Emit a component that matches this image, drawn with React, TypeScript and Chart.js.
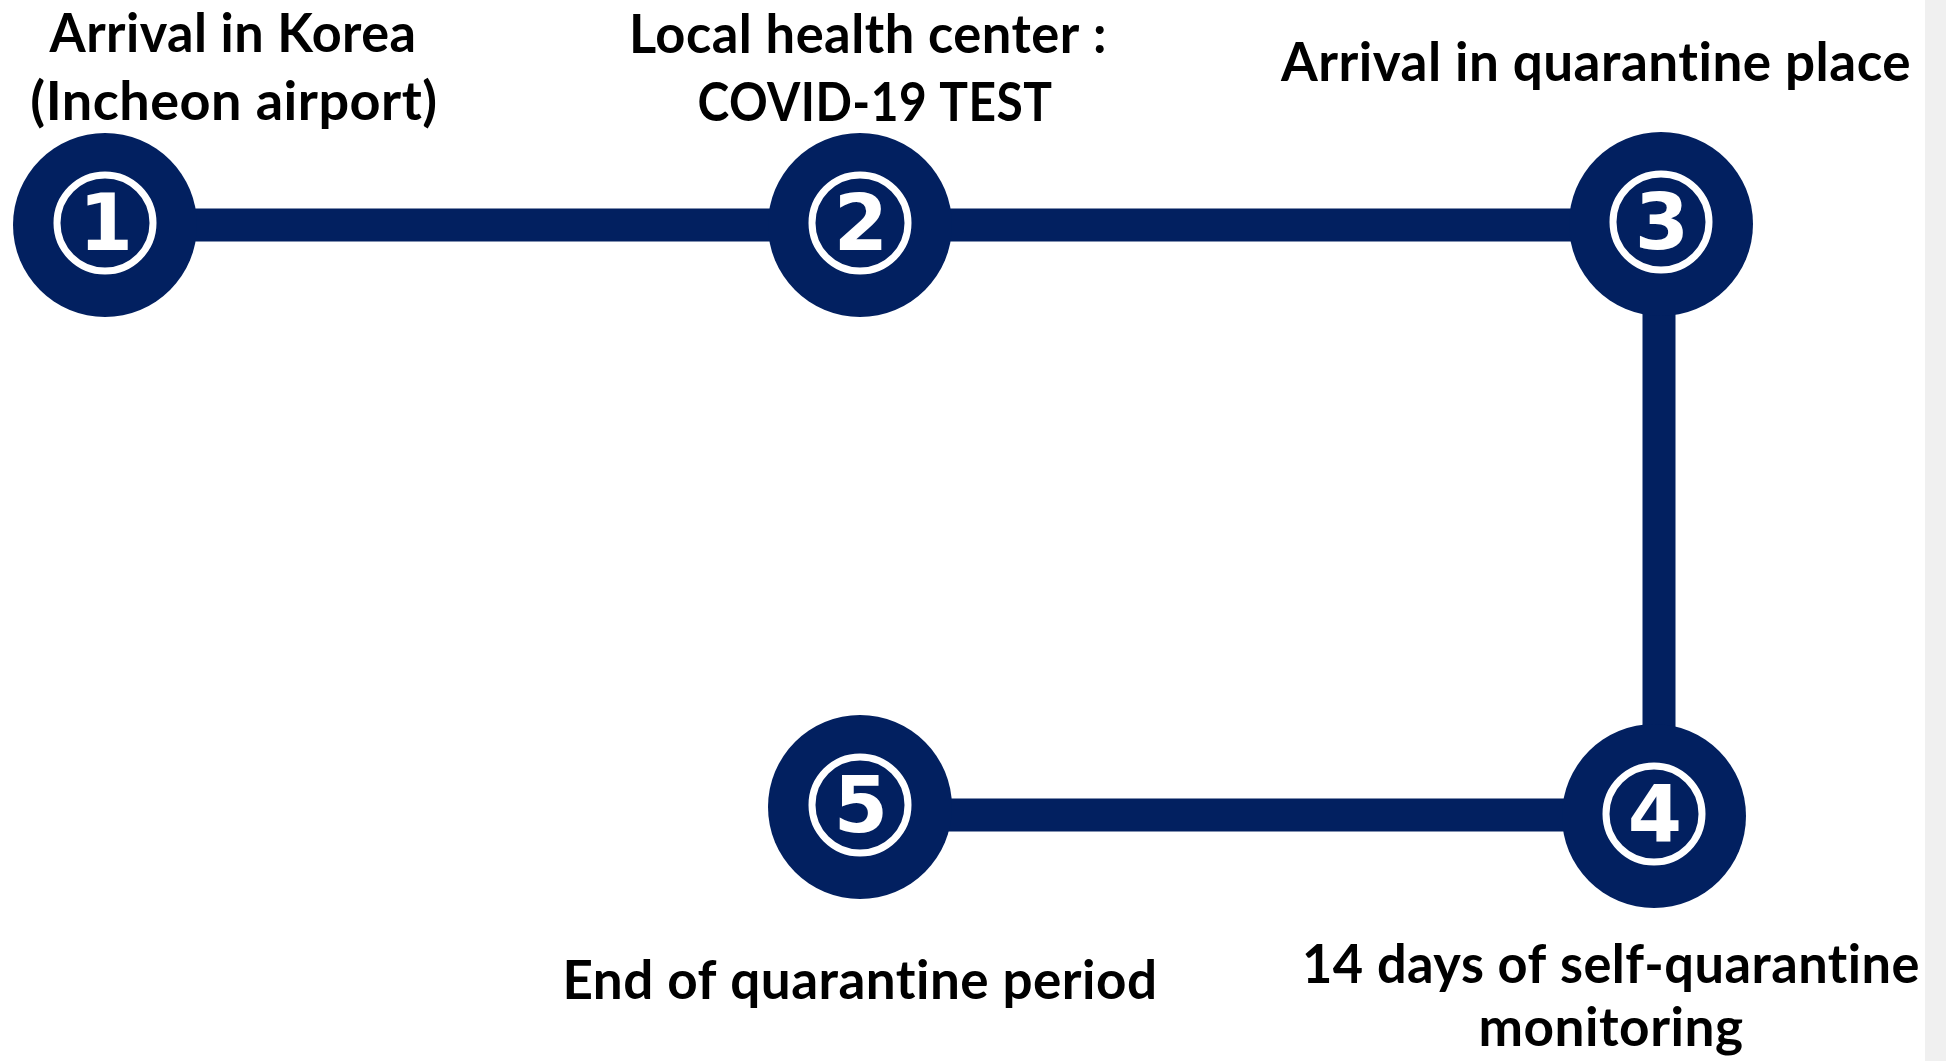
import React, { useEffect, useRef } from "react";
import { Chart, registerables } from "chart.js";

Chart.register(...registerables);

// Diagram data: node centres (in page pixel units) and connecting path
const NODE_X = [105, 860, 1661, 1654, 860];
const NODE_Y = [225, 225, 224, 816, 807];
const STEP_NUMBERS = ["1", "2", "3", "4", "5"];
const PATH_X = [105, 860, 1659, 1659, 860];
const PATH_Y = [225, 225, 225, 815, 815];
const STEP_LABELS = [
  ["Arrival in Korea", "(Incheon airport)"],
  ["Local health center :", "COVID-19 TEST"],
  ["Arrival in quarantine place"],
  ["14 days of self-quarantine", "monitoring"],
  ["End of quarantine period"],
];

// Layout / style (not data)
const W = 1946;
const H = 1061;
const NAVY = "#022060";
const LABEL_LAYOUT = [
  { cx: [233, 234], y: [52, 120], w: [367, 408] },
  { cx: [868, 875], y: [53, 121], w: [478, 355] },
  { cx: [1596], y: [81], w: [630] },
  { cx: [1611, 1611], y: [983, 1046], w: [618, 265] },
  { cx: [860], y: [999], w: [595] },
];

const overlayPlugin = {
  id: "overlay",
  beforeDraw(chart: any) {
    const ctx = chart.ctx;
    ctx.save();
    ctx.fillStyle = "#ffffff";
    ctx.fillRect(0, 0, chart.width, chart.height);
    ctx.fillStyle = "#f0f0f0";
    ctx.fillRect(1925, 0, chart.width - 1925, chart.height);
    ctx.restore();
  },
  afterDatasetsDraw(chart: any) {
    const ctx = chart.ctx;
    const xs = chart.scales.x;
    const ys = chart.scales.y;
    ctx.save();
    NODE_X.forEach((nx, i) => {
      const px = xs.getPixelForValue(nx);
      const py = ys.getPixelForValue(NODE_Y[i]) - 2;
      ctx.beginPath();
      ctx.arc(px, py, 48, 0, Math.PI * 2);
      ctx.strokeStyle = "#ffffff";
      ctx.lineWidth = 7;
      ctx.stroke();
      ctx.fillStyle = "#ffffff";
      ctx.font = "bold 78px 'DejaVu Sans'";
      ctx.textAlign = "center";
      ctx.textBaseline = "alphabetic";
      ctx.fillText(STEP_NUMBERS[i], px + 1, py + 27);
    });
    ctx.fillStyle = "#000000";
    ctx.font = "bold 54px Lato";
    ctx.textAlign = "center";
    ctx.textBaseline = "alphabetic";
    try {
      (ctx as any).letterSpacing = "0.5px";
    } catch (e) {}
    STEP_LABELS.forEach((lines, i) => {
      const lay = LABEL_LAYOUT[i];
      lines.forEach((t, j) => {
        ctx.fillText(t, lay.cx[j], lay.y[j], lay.w[j]);
      });
    });
    ctx.restore();
  },
};

export default function App() {
  const ref = useRef<HTMLCanvasElement>(null);
  useEffect(() => {
    if (!ref.current) return;
    const chart = new Chart(ref.current, {
      type: "scatter",
      data: {
        datasets: [
          {
            label: "path",
            data: PATH_X.map((x, i) => ({ x, y: PATH_Y[i] })),
            showLine: true,
            borderColor: NAVY,
            borderWidth: 33,
            borderCapStyle: "butt",
            borderJoinStyle: "miter",
            pointRadius: 0,
            tension: 0,
            clip: false,
            order: 2,
          },
          {
            label: "steps",
            data: NODE_X.map((x, i) => ({ x, y: NODE_Y[i] })),
            showLine: false,
            pointRadius: 92,
            pointHoverRadius: 92,
            backgroundColor: NAVY,
            borderWidth: 0,
            clip: false,
            order: 1,
          },
        ],
      } as any,
      options: {
        animation: false,
        responsive: false,
        maintainAspectRatio: false,
        events: [],
        layout: { padding: 0, autoPadding: false },
        plugins: { legend: { display: false }, tooltip: { enabled: false } },
        scales: {
          x: { type: "linear", min: 0, max: W, display: false },
          y: { type: "linear", min: 0, max: H, reverse: true, display: false },
        },
      } as any,
      plugins: [overlayPlugin],
    });
    return () => chart.destroy();
  }, []);
  return (
    <div style={{ position: "absolute", left: 0, top: 0, width: W, height: H }}>
      <canvas ref={ref} width={W} height={H} style={{ width: W, height: H, display: "block" }} />
    </div>
  );
}
